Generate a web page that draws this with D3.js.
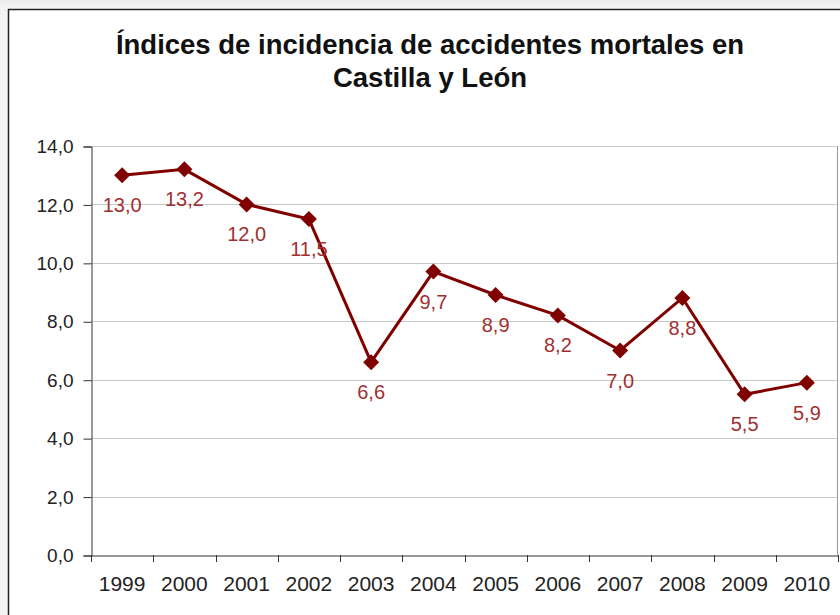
<!DOCTYPE html>
<html><head><meta charset="utf-8">
<script src="https://cdn.jsdelivr.net/npm/d3@7"></script>
<style>
html,body{margin:0;padding:0;background:#fff;}
svg{display:block;}
text{font-family:"Liberation Sans",Arial,sans-serif;}
</style></head>
<body>
<svg id="c" width="840" height="615"></svg>
<script>
const years = ["1999","2000","2001","2002","2003","2004","2005","2006","2007","2008","2009","2010"];
const values = [13.0,13.2,12.0,11.5,6.6,9.7,8.9,8.2,7.0,8.8,5.5,5.9];
const yTicks = [0,2,4,6,8,10,12,14];
const titleLines = ["Índices de incidencia de accidentes mortales en","Castilla y León"];

(function(){
const svg = d3.select("#c");
const bg = svg.append("defs").append("linearGradient").attr("id","g").attr("x1",0).attr("y1",0).attr("x2",0).attr("y2",1);
bg.append("stop").attr("offset","0").attr("stop-color","#ececec");
bg.append("stop").attr("offset","1").attr("stop-color","#f6f6f6");
svg.append("rect").attr("width",840).attr("height",615).attr("fill","#f3f3f3");
svg.append("rect").attr("width",840).attr("height",9).attr("fill","url(#g)");
svg.append("rect").attr("x",8.5).attr("y",9.5).attr("width",840).attr("height",620).attr("fill","#fff").attr("stroke","#222").attr("stroke-width",1.5);

const fmt = v => d3.format(".1f")(v).replace(".",",");
const pL=91, pR=838, pT=146, pB=555;
const x = d3.scaleBand().domain(years).range([pL,pR]);
const y = d3.scaleLinear().domain([0,14]).range([pB,pT]);
const font = "Liberation Sans, Arial, sans-serif";

svg.append("g").selectAll("line").data(yTicks.filter(d=>d>0)).join("line")
  .attr("x1",pL).attr("x2",pR).attr("y1",d=>Math.round(y(d))+0.5).attr("y2",d=>Math.round(y(d))+0.5)
  .attr("stroke","#c8c8c8").attr("stroke-width",1);
svg.append("line").attr("x1",pR-0.5).attr("x2",pR-0.5).attr("y1",pT).attr("y2",pB).attr("stroke","#999");

const ya = svg.append("g").attr("transform",`translate(${pL+0.5},0.5)`)
  .call(d3.axisLeft(y).tickValues(yTicks).tickFormat(fmt).tickSize(8).tickPadding(10));
ya.select(".domain").attr("stroke","#333");
ya.selectAll(".tick line").attr("stroke","#333");
ya.selectAll("text").attr("font-size",19).attr("fill","#222").attr("font-family",font);

const xa = svg.append("g").attr("transform",`translate(0,${pB+0.5})`)
  .call(d3.axisBottom(x).tickSize(0).tickPadding(21));
xa.select(".domain").attr("stroke","#333");
xa.selectAll("text").attr("font-size",21).attr("fill","#222").attr("font-family",font);
svg.append("g").selectAll("line").data(d3.range(years.length+1)).join("line")
  .attr("x1",i=>Math.round(pL+i*x.step())+0.5).attr("x2",i=>Math.round(pL+i*x.step())+0.5)
  .attr("y1",pB).attr("y2",pB+7).attr("stroke","#333");

const cx = d => x(d)+x.bandwidth()/2;
svg.append("path").datum(values)
  .attr("d",d3.line().x((d,i)=>cx(years[i])).y(d=>y(d)))
  .attr("fill","none").attr("stroke","#800000").attr("stroke-width",3);
svg.append("g").selectAll("path").data(values).join("path")
  .attr("d",d3.symbol(d3.symbolSquare, 128)())
  .attr("transform",(d,i)=>`translate(${cx(years[i])},${y(d)}) rotate(45)`)
  .attr("fill","#800000");
svg.append("g").selectAll("text").data(values).join("text")
  .attr("x",(d,i)=>cx(years[i])).attr("y",d=>y(d)+37)
  .attr("text-anchor","middle").attr("font-size",20).attr("fill","#a03030")
  .text(fmt);

svg.append("g").selectAll("text").data(titleLines).join("text")
  .attr("x",430).attr("y",(d,i)=>54+i*33).attr("text-anchor","middle")
  .attr("font-size",27.5).attr("font-weight","bold").attr("fill","#111")
  .text(d=>d);
})();
</script>
</body></html>
